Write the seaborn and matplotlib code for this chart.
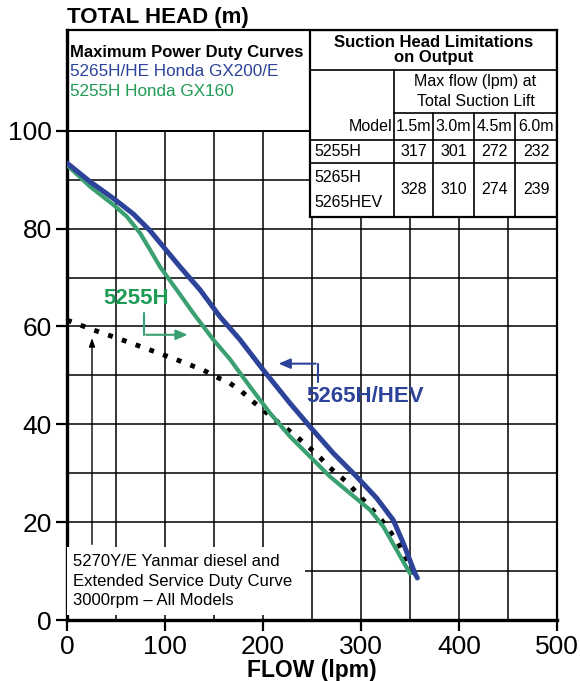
import pandas as pd
import matplotlib.pyplot as plt
import seaborn as sns
from matplotlib.ticker import MultipleLocator
from matplotlib.patches import Rectangle

sns.set_style('ticks', {'axes.edgecolor': 'black', 'text.color': 'black',
                        'axes.labelcolor': 'black', 'xtick.color': 'black',
                        'ytick.color': 'black'})
plt.rcParams['font.family'] = ['Liberation Sans', 'DejaVu Sans']

# Curve data (flow in lpm, head in m)
flow_5265 = [0, 23.5, 47.2, 67.7, 84.7, 98.3, 115.3, 135.7, 156.1, 176.5, 200.3,
             227.6, 248, 271.7, 295.6, 316, 333, 343.2, 355.1, 357.5]
head_5265 = [93.4, 89.6, 86.2, 83.0, 79.6, 76.3, 72.2, 67.5, 62.0, 57.3, 51.1,
             44.3, 39.5, 34.1, 29.3, 24.9, 20.4, 15.7, 9.5, 8.6]

flow_5255 = [0, 23.5, 47.2, 60.9, 74.5, 84.7, 94.9, 111.9, 128.9, 149.3, 166.3,
             186.7, 207.1, 227.6, 248, 268.4, 288.8, 309.2, 322.8, 336.4, 350]
head_5255 = [93.0, 88.6, 84.9, 82.5, 79.1, 75.7, 72.2, 67.5, 62.7, 57.3, 53.3,
             47.7, 42.3, 37.5, 33.4, 29.3, 25.9, 22.5, 19.1, 14.3, 9.5]

flow_5270 = [0, 26.8, 55.8, 84.7, 111.9, 139, 151, 166.3, 178.3, 190.1, 200.3,
             212.2, 224.2, 236, 248, 258.2, 268.4, 280.3, 290.5, 300.7, 310.9,
             321.1, 329.6, 338.1, 345, 351.7, 358]
head_5270 = [61.3, 59.3, 57.3, 55.2, 53.2, 51.1, 49.8, 48.4, 46.7, 44.6, 42.9,
             40.9, 39.1, 37.2, 35.1, 33.2, 31.1, 29.1, 27.1, 24.9, 22.7,
             20.4, 18.1, 15.7, 12.9, 10.2, 8.6]

# Suction table
lifts = ['1.5m', '3.0m', '4.5m', '6.0m']
max_flow_5255 = [317, 301, 272, 232]
max_flow_5265 = [328, 310, 274, 239]

blue = '#2C4399'
green = '#3AA072'
green_text = '#1E9B55'

fig = plt.figure(figsize=(5.8, 6.81), dpi=100)
ax = fig.add_axes([67 / 580, 61 / 681, 490 / 580, 590 / 681])

df = pd.concat([
    pd.DataFrame({'flow': flow_5270, 'head': head_5270, 'model': '5270'}),
    pd.DataFrame({'flow': flow_5255, 'head': head_5255, 'model': '5255H'}),
    pd.DataFrame({'flow': flow_5265, 'head': head_5265, 'model': '5265H'}),
])

sns.lineplot(data=df[df.model == '5270'], x='flow', y='head', ax=ax, sort=False,
             estimator=None, color='black', lw=3.5, zorder=3)
ax.lines[-1].set_linestyle((0, (1, 2)))
ax.lines[-1].set_dash_capstyle('butt')
sns.lineplot(data=df[df.model == '5255H'], x='flow', y='head', ax=ax, sort=False,
             estimator=None, color=green, lw=3.0, zorder=4)
sns.lineplot(data=df[df.model == '5265H'], x='flow', y='head', ax=ax, sort=False,
             estimator=None, color=blue, lw=3.6, zorder=5)
for ln in ax.lines:
    ln.set_solid_joinstyle('round')

ax.set_xlim(0, 500)
ax.set_ylim(0, 120.6)
ax.xaxis.set_major_locator(MultipleLocator(100))
ax.xaxis.set_minor_locator(MultipleLocator(50))
ax.set_yticks([0, 20, 40, 60, 80, 100])
ax.yaxis.set_minor_locator(MultipleLocator(10))
ax.grid(which='both', color='black', lw=1.1)
ax.set_axisbelow(True)
ax.tick_params(which='major', direction='out', length=8, width=1.6, labelsize=19, pad=3)
ax.tick_params(which='minor', length=0)
for side in ['left', 'bottom']:
    ax.spines[side].set_linewidth(2.4)
for side in ['top', 'right']:
    ax.spines[side].set_linewidth(1.6)

ax.set_xlabel('FLOW (lpm)', fontsize=16.5, fontweight='bold', labelpad=0)
ax.set_ylabel('')
fig.text(67 / 580, 1 - 18 / 681, 'TOTAL HEAD (m)', fontsize=16, fontweight='bold',
         va='center', ha='left')

# Legend box at top left
ax.add_patch(Rectangle((0, 100 / 120.6), 0.4959, 1 - 100 / 120.6, transform=ax.transAxes,
                       facecolor='white', edgecolor='black', lw=1.4, zorder=2))
ax.text(0.006, 0.962, 'Maximum Power Duty Curves', transform=ax.transAxes,
        fontsize=12, fontweight='bold', va='center', zorder=6)
ax.text(0.006, 0.929, '5265H/HE Honda GX200/E', transform=ax.transAxes,
        fontsize=12.3, color=blue, va='center', zorder=6)
ax.text(0.006, 0.895, '5255H Honda GX160', transform=ax.transAxes,
        fontsize=12.3, color=green_text, va='center', zorder=6)

# Suction head table at top right
xl, xm, xr = 0.4959, 0.6673, 1.0
col_edges = [0.6673, 0.7469, 0.8306, 0.9143, 1.0]
y_top, y_t1, y_t2, y_t3, y_t4, y_bot = 1.0, 0.9322, 0.8593, 0.8136, 0.7746, 0.6831
ax.add_patch(Rectangle((xl, y_bot), xr - xl, y_top - y_bot, transform=ax.transAxes,
                       facecolor='white', edgecolor='black', lw=1.6, zorder=2))
tk = dict(transform=ax.transAxes, color='black', lw=1.2, zorder=2.1)
ax.plot([xl, xr], [y_t1, y_t1], **tk)
ax.plot([xl, xr], [y_t3, y_t3], **tk)
ax.plot([xl, xr], [y_t4, y_t4], **tk)
ax.plot([xm, xr], [y_t2, y_t2], **tk)
ax.plot([xm, xm], [y_t1, y_bot], **tk)
for xe in col_edges[1:-1]:
    ax.plot([xe, xe], [y_t2, y_t4], **tk)
    ax.plot([xe, xe], [y_t4, y_bot], **tk)

ax.text((xl + xr) / 2, (y_top + y_t1) / 2, 'Suction Head Limitations\non Output',
        transform=ax.transAxes, ha='center', va='center', fontsize=12,
        fontweight='bold', linespacing=0.95, zorder=6)
ax.text((xm + xr) / 2, (y_t1 + y_t2) / 2, 'Max flow (lpm) at\nTotal Suction Lift',
        transform=ax.transAxes, ha='center', va='center', fontsize=11.5,
        linespacing=1.45, zorder=6)
ax.text(xm - 0.004, (y_t2 + y_t3) / 2, 'Model', transform=ax.transAxes,
        ha='right', va='center', fontsize=11.5, zorder=6)
ax.text(xl + 0.008, (y_t3 + y_t4) / 2, '5255H', transform=ax.transAxes,
        ha='left', va='center', fontsize=11.5, zorder=6)
ax.text(xl + 0.008, (y_t4 + y_bot) / 2, '5265H\n5265HEV', transform=ax.transAxes,
        ha='left', va='center', fontsize=11.5, linespacing=1.9, zorder=6)
for i, lift in enumerate(lifts):
    xc = (col_edges[i] + col_edges[i + 1]) / 2
    ax.text(xc, (y_t2 + y_t3) / 2, lift, transform=ax.transAxes,
            ha='center', va='center', fontsize=11.5, zorder=6)
    ax.text(xc, (y_t3 + y_t4) / 2, str(max_flow_5255[i]), transform=ax.transAxes,
            ha='center', va='center', fontsize=11.5, zorder=6)
    ax.text(xc, (y_t4 + y_bot) / 2, str(max_flow_5265[i]), transform=ax.transAxes,
            ha='center', va='center', fontsize=11.5, zorder=6)

# Curve labels with bent arrows
ax.text(71, 65.8, '5255H', color=green_text, fontsize=16, fontweight='bold',
        ha='center', va='center', zorder=6)
ax.plot([78.6, 78.6], [62.8, 58.3], color=green, lw=1.5, zorder=6)
ax.annotate('', xy=(126, 58.3), xytext=(78, 58.3),
            arrowprops=dict(arrowstyle='-|>,head_length=0.7,head_width=0.3',
                            color=green, lw=1.5), zorder=6)

ax.text(304, 45.6, '5265H/HEV', color=blue, fontsize=16, fontweight='bold',
        ha='center', va='center', zorder=6)
ax.plot([256, 256], [48.7, 52.4], color=blue, lw=1.5, zorder=6)
ax.annotate('', xy=(213, 52.4), xytext=(256.6, 52.4),
            arrowprops=dict(arrowstyle='-|>,head_length=0.7,head_width=0.3',
                            color=blue, lw=1.5), zorder=6)

ax.annotate('', xy=(25.5, 58.2), xytext=(25.5, 14.9),
            arrowprops=dict(arrowstyle='-|>,head_length=0.5,head_width=0.18',
                            color='black', lw=1.0), zorder=2.5)

# Diesel note box at bottom left
ax.add_patch(Rectangle((0, 0.0085), 0.486, 0.1152, transform=ax.transAxes,
                       facecolor='white', edgecolor='none', zorder=2.6))
ax.text(0.012, 0.066, '5270Y/E Yanmar diesel and\nExtended Service Duty Curve\n3000rpm \u2013 All Models',
        transform=ax.transAxes, ha='left', va='center', fontsize=12,
        linespacing=1.4, zorder=6)

fig.savefig('out.png', dpi=100)
